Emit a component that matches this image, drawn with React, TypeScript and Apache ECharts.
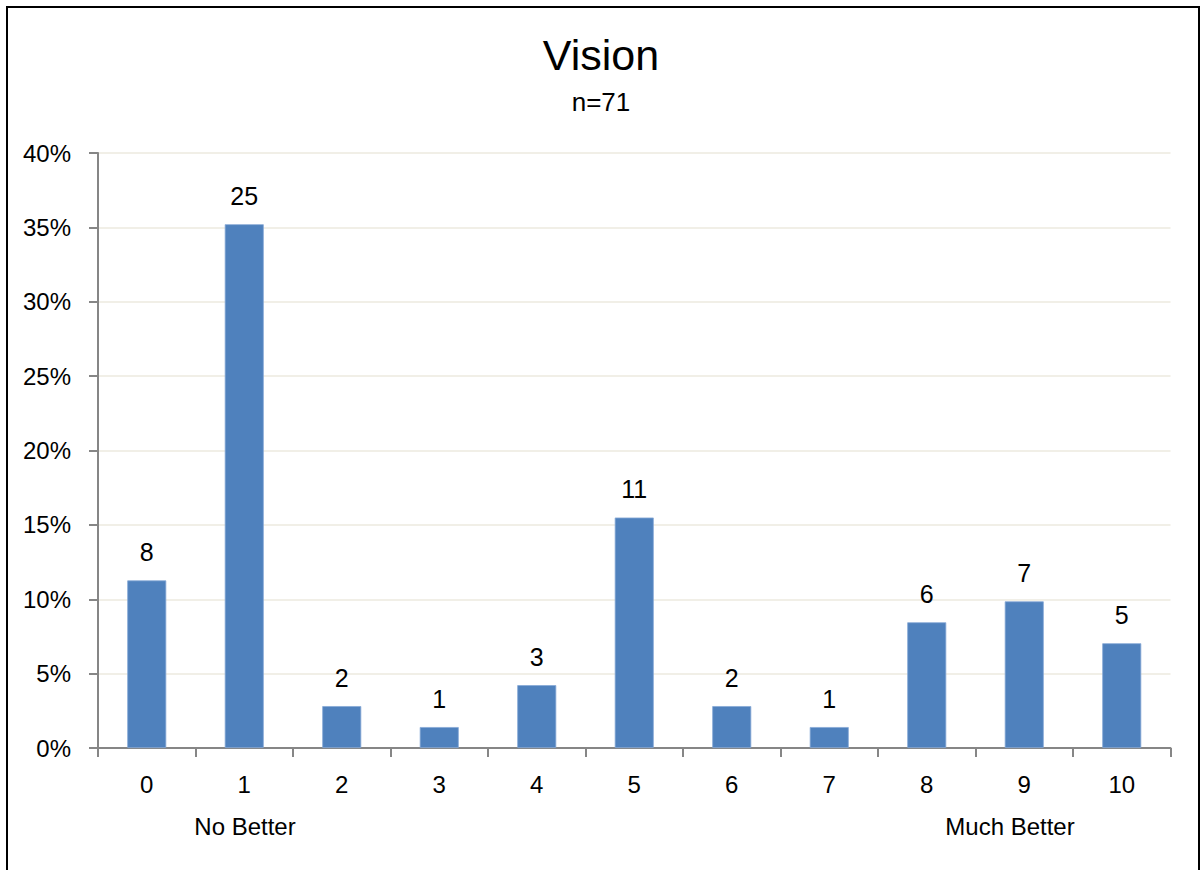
import React, { useEffect, useRef } from "react";
import * as echarts from "echarts";

const categories = ["0", "1", "2", "3", "4", "5", "6", "7", "8", "9", "10"];
const counts = [8, 25, 2, 1, 3, 11, 2, 1, 6, 7, 5];
const total = 71;
const titleText = "Vision";
const subtitleText = "n=71";
const lowLabel = "No Better";
const highLabel = "Much Better";

const FONT = "'Liberation Sans Narrow', 'Arial Narrow', 'Liberation Sans', Arial, sans-serif";

export default function App() {
  const ref = useRef<HTMLDivElement>(null);
  useEffect(() => {
    if (!ref.current) return;
    const chart = echarts.init(ref.current, undefined, { renderer: "svg" });
    const percents = counts.map((c) => (c / total) * 100);
    chart.setOption({
      animation: false,
      backgroundColor: "#ffffff",
      textStyle: { fontFamily: FONT },
      title: {
        text: titleText,
        subtext: subtitleText,
        left: "center",
        top: 28,
        itemGap: 13,
        textStyle: { fontFamily: FONT, fontSize: 43, fontWeight: "normal", color: "#000" },
        subtextStyle: { fontFamily: FONT, fontSize: 26, color: "#000" },
      },
      grid: { left: 98, right: 31.5, top: 153, bottom: 122, containLabel: false },
      xAxis: {
        type: "category",
        data: categories,
        axisLine: { lineStyle: { color: "#868686", width: 2 } },
        axisTick: { show: true, length: 9, lineStyle: { color: "#868686", width: 2 } },
        axisLabel: { fontFamily: FONT, fontSize: 24, color: "#000", margin: 24 },
      },
      yAxis: {
        type: "value",
        min: 0,
        max: 40,
        interval: 5,
        axisLine: { show: true, lineStyle: { color: "#868686", width: 2 } },
        axisTick: { show: true, length: 9, lineStyle: { color: "#868686", width: 2 } },
        axisLabel: {
          fontFamily: FONT,
          fontSize: 24,
          color: "#000",
          margin: 27,
          formatter: (v: number) => v + "%",
        },
        splitLine: { show: true, lineStyle: { color: "#ECEADF", width: 1.5 } },
      },
      series: [
        {
          type: "bar",
          data: percents,
          barWidth: 39,
          itemStyle: { color: "#4F81BD", borderColor: "#86A8D6", borderWidth: 0.8 },
          label: {
            show: true,
            position: "top",
            distance: 16,
            fontFamily: FONT,
            fontSize: 25,
            color: "#000",
            formatter: (p: any) => String(counts[p.dataIndex]),
          },
        },
      ],
      graphic: [
        {
          type: "rect",
          shape: { x: 7, y: 7, width: 1192, height: 900 },
          style: { fill: "none", stroke: "#000", lineWidth: 2 },
          silent: true,
        },
        {
          type: "text",
          x: 245,
          y: 814,
          style: { text: lowLabel, fontFamily: FONT, fontSize: 24, fill: "#000", align: "center" },
        },
        {
          type: "text",
          x: 1010,
          y: 814,
          style: { text: highLabel, fontFamily: FONT, fontSize: 24, fill: "#000", align: "center" },
        },
      ],
    });
    return () => chart.dispose();
  }, []);
  return (
    <div
      ref={ref}
      style={{ position: "absolute", left: 0, top: 0, width: 1202, height: 870 }}
    />
  );
}
